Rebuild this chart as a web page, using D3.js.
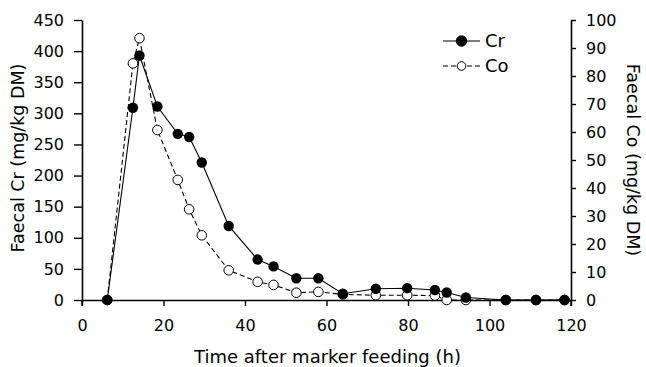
<!DOCTYPE html>
<html>
<head>
<meta charset="utf-8">
<script src="https://cdn.jsdelivr.net/npm/d3@7/dist/d3.min.js"></script>
<style>
  html, body { margin: 0; padding: 0; background: #fff; }
  svg { display: block; }
  text { font-family: "DejaVu Sans", Verdana, sans-serif; fill: #000; }
</style>
</head>
<body>
<svg id="chart" width="646" height="367"></svg>
<script>
// ---- data ----
const crTime = [6.2, 12.5, 14.1, 18.5, 23.5, 26.3, 29.4, 36.0, 43.1, 47.0, 52.6, 58.0, 64.0, 72.1, 79.8, 86.6, 89.5, 94.2, 104.0, 111.4, 118.4];
const crValues = [0, 309, 393, 311, 267, 262, 221, 119, 65, 54, 35, 35, 10, 18, 19, 16, 12, 4, 0, 0, 0];
const coTime = [6.2, 12.5, 14.1, 18.5, 23.5, 26.3, 29.4, 36.0, 43.1, 47.0, 52.6, 58.0, 64.0, 72.1, 79.8, 86.6, 89.5, 94.2, 104.0, 111.4, 118.4];
const coValues = [0, 84.5, 93.5, 60.7, 42.9, 32.4, 23.1, 10.6, 6.5, 5.4, 2.6, 2.9, 2.0, 1.7, 1.7, 1.6, 0, 0, 0, 0, 0];
const xTicks = [0, 20, 40, 60, 80, 100, 120];
const leftTicks = [0, 50, 100, 150, 200, 250, 300, 350, 400, 450];
const rightTicks = [0, 10, 20, 30, 40, 50, 60, 70, 80, 90, 100];
const seriesNames = ["Cr", "Co"];

(function () {
// ---- layout ----
const svg = d3.select("#chart");
const mLeft = 82, mRight = 571, mTop = 20, mBottom = 300;
const fsTick = 16, fsTitle = 18, fsYTitle = 17.5;

const x = d3.scaleLinear().domain([0, 120]).range([mLeft, mRight]);
const yL = d3.scaleLinear().domain([0, 450]).range([mBottom, mTop]);
const yR = d3.scaleLinear().domain([0, 100]).range([mBottom, mTop]);

// axes
const gx = svg.append("g").attr("transform", `translate(0,${mBottom})`)
  .call(d3.axisBottom(x).tickValues(xTicks).tickSize(6).tickPadding(14).tickSizeOuter(0));
const gl = svg.append("g").attr("transform", `translate(${mLeft},0)`)
  .call(d3.axisLeft(yL).tickValues(leftTicks).tickSize(8).tickPadding(10).tickSizeOuter(0));
const gr = svg.append("g").attr("transform", `translate(${mRight},0)`)
  .call(d3.axisRight(yR).tickValues(rightTicks).tickSize(5).tickPadding(10).tickSizeOuter(0));

[gx, gl, gr].forEach(g => {
  g.select(".domain").attr("stroke", "#000").attr("stroke-width", 1.6);
  g.selectAll(".tick line").attr("stroke", "#000").attr("stroke-width", 1.4);
  g.selectAll(".tick text").attr("font-size", fsTick).attr("font-family", "DejaVu Sans").attr("fill", "#000");
});
svg.append("line").attr("x1", mLeft).attr("x2", mLeft).attr("y1", mBottom).attr("y2", mBottom + 6)
  .attr("stroke", "#000").attr("stroke-width", 1.4);
svg.append("line").attr("x1", mRight).attr("x2", mRight).attr("y1", mBottom).attr("y2", mBottom + 6)
  .attr("stroke", "#000").attr("stroke-width", 1.4);

// axis titles
svg.append("text").attr("x", (mLeft + mRight) / 2 + 1).attr("y", 363)
  .attr("text-anchor", "middle").attr("font-size", fsTitle).text("Time after marker feeding (h)");
svg.append("text").attr("transform", `translate(24,${(mTop + mBottom) / 2 - 2}) rotate(-90)`)
  .attr("text-anchor", "middle").attr("font-size", fsYTitle).text("Faecal Cr (mg/kg DM)");
svg.append("text").attr("transform", `translate(627,${(mTop + mBottom) / 2}) rotate(90)`)
  .attr("text-anchor", "middle").attr("font-size", fsYTitle).text("Faecal Co (mg/kg DM)");

// lines
const crData = crTime.map((t, i) => [t, crValues[i]]);
const coData = coTime.map((t, i) => [t, coValues[i]]);

svg.append("path").datum(coData)
  .attr("d", d3.line().x(d => x(d[0])).y(d => yR(d[1])))
  .attr("fill", "none").attr("stroke", "#000").attr("stroke-width", 1.1).attr("stroke-dasharray", "5,3");
svg.append("path").datum(crData)
  .attr("d", d3.line().x(d => x(d[0])).y(d => yL(d[1])))
  .attr("fill", "none").attr("stroke", "#000").attr("stroke-width", 1.1);

svg.append("g").selectAll("circle").data(coData).join("circle")
  .attr("cx", d => x(d[0])).attr("cy", d => yR(d[1])).attr("r", 4.8)
  .attr("fill", "#fff").attr("stroke", "#000").attr("stroke-width", 1);
svg.append("g").selectAll("circle").data(crData).join("circle")
  .attr("cx", d => x(d[0])).attr("cy", d => yL(d[1])).attr("r", 5.2)
  .attr("fill", "#000");

// legend
const leg = svg.append("g");
seriesNames.forEach((name, i) => {
  const ly = 41 + i * 25;
  leg.append("line").attr("x1", 443).attr("x2", 480).attr("y1", ly).attr("y2", ly)
    .attr("stroke", "#000").attr("stroke-width", 1.1)
    .attr("stroke-dasharray", i === 1 ? "5,3" : null);
  leg.append("circle").attr("cx", 461.5).attr("cy", ly).attr("r", i === 0 ? 5.2 : 4.3)
    .attr("fill", i === 0 ? "#000" : "#fff").attr("stroke", "#000").attr("stroke-width", 1);
  leg.append("text").attr("x", 485).attr("y", ly).attr("dy", "0.36em")
    .attr("font-size", fsTitle).text(name);
});
})();
</script>
</body>
</html>
